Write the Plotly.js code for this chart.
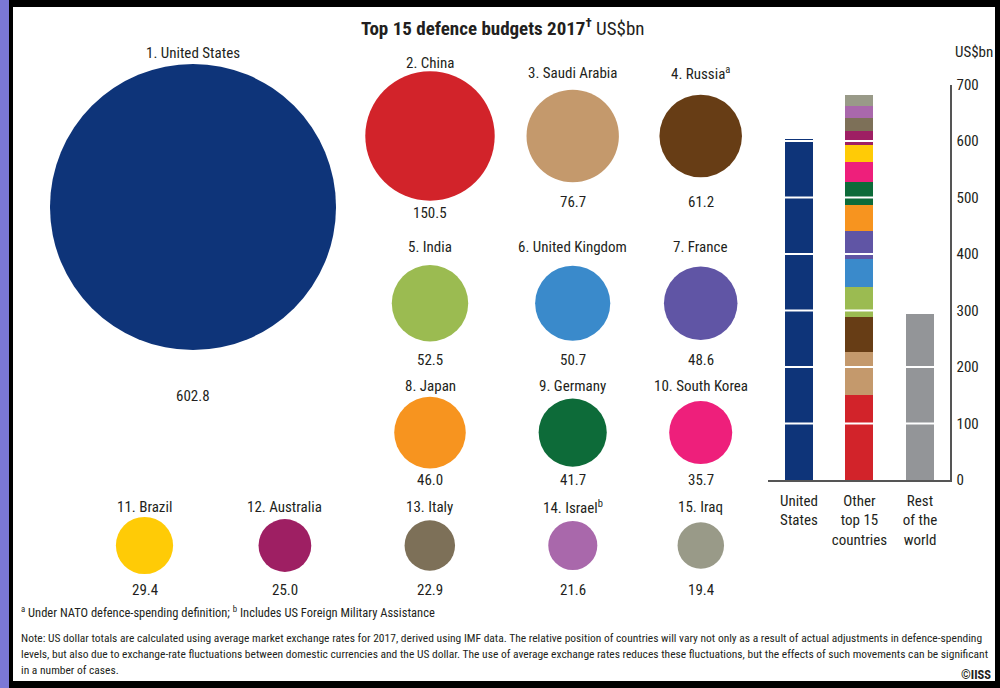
<!DOCTYPE html>
<html>
<head>
<meta charset="utf-8">
<script src="https://cdn.plot.ly/plotly-3.0.1.min.js"></script>
<style>
  html, body { margin: 0; padding: 0; background: #000; }
  #chart { width: 1000px; height: 688px; }
</style>
</head>
<body>
<div id="chart"></div>
<script>
// ---------------- DATA ----------------
const countries = ['United States', 'China', 'Saudi Arabia', 'Russia', 'India', 'United Kingdom', 'France',
  'Japan', 'Germany', 'South Korea', 'Brazil', 'Australia', 'Italy', 'Israel', 'Iraq'];
const countryNotes = ['', '', '', 'a', '', '', '', '', '', '', '', '', '', 'b', ''];
const budgets = [602.8, 150.5, 76.7, 61.2, 52.5, 50.7, 48.6, 46.0, 41.7, 35.7, 29.4, 25.0, 22.9, 21.6, 19.4];
const barCategories = ['United<br>States', 'Other<br>top 15<br>countries', 'Rest<br>of the<br>world'];
const restOfWorld = 293;
const yTicks = [0, 100, 200, 300, 400, 500, 600, 700];

// ---------------- STYLE / LAYOUT CONFIG ----------------
const colors = ['#0e3479', '#d2232a', '#c4996c', '#673d15', '#9bbb51', '#3a8acb', '#6055a5',
  '#f7941f', '#0d6b39', '#ee1f7b', '#ffcb06', '#9e1f63', '#7d7058', '#a968ab', '#999a88'];
const restColor = '#939598';
const FONT = '"Roboto Condensed", "Liberation Sans Narrow", Roboto, sans-serif';
const TXT = '#231f20';
const PX_PER_SQRT = 10.55;      // bubble diameter per sqrt(US$bn), small bubbles
const US_PX_PER_SQRT = 11.65;   // the US bubble is drawn a little larger in the original

// bubble slots (pixel space of the full figure)
const colsGrid = [430, 572.7, 700.7];
const colsBottom = [144.5, 284.9, 429.8, 572.8, 700.8];
const rows = [
  {cy: 136, ly: 73, vy: 202},
  {cy: 303.3, ly: 246.7, vy: 360},
  {cy: 432.6, ly: 386, vy: 480},
  {cy: 545.5, ly: 506.7, vy: 590}
];
function slotFor(i) {
  if (i === 0) return {x: 193, cy: 207, ly: 53, vy: 396};
  if (i <= 9) { const r = rows[Math.floor((i - 1) / 3)]; return Object.assign({x: colsGrid[(i - 1) % 3]}, r); }
  return Object.assign({x: colsBottom[i - 10]}, rows[3]);
}

const traces = [];
const annotations = [];
const shapes = [];

// ---------- bubbles ----------
const bx = [], by = [];
budgets.forEach((v, i) => {
  const s = slotFor(i);
  bx.push(s.x); by.push(s.cy);
  const k = i === 0 ? US_PX_PER_SQRT : PX_PER_SQRT;
  const r = Math.sqrt(v) * k / 2;
  const ly = Math.min(s.ly, s.cy - r - 8);
  const vy = Math.max(s.vy, s.cy + r + 12);
  const name = (i + 1) + '. ' + countries[i] + (countryNotes[i] ? '<sup>' + countryNotes[i] + '</sup>' : '');
  annotations.push({xref: 'x', yref: 'y', x: s.x, y: ly, text: name, showarrow: false,
    xanchor: 'center', yanchor: 'middle', font: {family: FONT, size: 15, color: TXT}});
  annotations.push({xref: 'x', yref: 'y', x: s.x, y: vy, text: v.toFixed(1), showarrow: false,
    xanchor: 'center', yanchor: 'middle', font: {family: FONT, size: 15, color: TXT}});
});
traces.push({
  type: 'scatter', mode: 'markers', x: bx.slice(0, 1), y: by.slice(0, 1), xaxis: 'x', yaxis: 'y',
  marker: {size: budgets.slice(0, 1), sizemode: 'area', sizeref: 2 / (US_PX_PER_SQRT * US_PX_PER_SQRT),
    color: colors.slice(0, 1), line: {width: 0}, opacity: 1},
  hoverinfo: 'skip', showlegend: false, cliponaxis: false
});
traces.push({
  type: 'scatter', mode: 'markers', x: bx.slice(1), y: by.slice(1), xaxis: 'x', yaxis: 'y',
  marker: {size: budgets.slice(1), sizemode: 'area', sizeref: 2 / (PX_PER_SQRT * PX_PER_SQRT),
    color: colors.slice(1), line: {width: 0}, opacity: 1},
  hoverinfo: 'skip', showlegend: false, cliponaxis: false
});

// ---------- stacked bars ----------
traces.push({type: 'bar', x: [barCategories[0]], y: [budgets[0]], marker: {color: colors[0], line: {width: 0}},
  width: 0.463, xaxis: 'x2', yaxis: 'y2', showlegend: false, hoverinfo: 'skip'});
for (let i = 1; i < budgets.length; i++) {
  traces.push({type: 'bar', x: [barCategories[1]], y: [budgets[i]], marker: {color: colors[i], line: {width: 0}},
    width: 0.463, xaxis: 'x2', yaxis: 'y2', showlegend: false, hoverinfo: 'skip'});
}
traces.push({type: 'bar', x: [barCategories[2]], y: [restOfWorld], marker: {color: restColor, line: {width: 0}},
  width: 0.463, xaxis: 'x2', yaxis: 'y2', showlegend: false, hoverinfo: 'skip'});

// white grid lines drawn over the bars
yTicks.slice(1).forEach(t => {
  shapes.push({type: 'line', xref: 'x2 domain', yref: 'y2', x0: 0, x1: 0.99, y0: t, y1: t,
    line: {color: '#ffffff', width: 2}, layer: 'above'});
});

// ---------- frame ----------
shapes.unshift({type: 'rect', xref: 'paper', yref: 'paper', x0: 0.013, x1: 0.995,
  y0: 1 - 681 / 688, y1: 1 - 7 / 688, fillcolor: '#ffffff', line: {width: 0}, layer: 'below'});
shapes.unshift({type: 'rect', xref: 'paper', yref: 'paper', x0: 0, x1: 0.009, y0: 0, y1: 1,
  fillcolor: '#7b78d6', line: {width: 0}, layer: 'below'});

// ---------- texts ----------
annotations.push({xref: 'x', yref: 'y', x: 503, y: 27, showarrow: false, xanchor: 'center', yanchor: 'middle',
  text: '<b>Top 15 defence budgets 2017<sup>†</sup></b> US$bn', font: {family: FONT, size: 19, color: TXT}});
annotations.push({xref: 'x', yref: 'y', x: 974, y: 52, showarrow: false, xanchor: 'center', yanchor: 'middle',
  text: 'US$bn', font: {family: FONT, size: 15, color: TXT}});
annotations.push({xref: 'x', yref: 'y', x: 19, y: 612, showarrow: false, xanchor: 'left', yanchor: 'middle',
  text: '<sup>a</sup> Under NATO defence-spending definition; <sup>b</sup> Includes US Foreign Military Assistance',
  font: {family: FONT, size: 12.5, color: TXT}});
const noteLines = [
  'Note: US dollar totals are calculated using average market exchange rates for 2017, derived using IMF data. The relative position of countries will vary not only as a result of actual adjustments in defence-spending',
  'levels, but also due to exchange-rate fluctuations between domestic currencies and the US dollar. The use of average exchange rates reduces these fluctuations, but the effects of such movements can be significant',
  'in a number of cases.'
];
noteLines.forEach((t, k) => {
  annotations.push({xref: 'x', yref: 'y', x: 19, y: 638 + 16 * k, showarrow: false, xanchor: 'left', yanchor: 'middle',
    text: t, font: {family: FONT, size: 11.5, color: TXT}});
});
annotations.push({xref: 'x', yref: 'y', x: 993, y: 674, showarrow: false, xanchor: 'right', yanchor: 'middle',
  text: '<b>©IISS</b>', font: {family: FONT, size: 12.5, color: TXT}});

// ---------- layout ----------
const y0px = 480, y700px = 84.5;
const layout = {
  width: 1000, height: 688,
  margin: {l: 0, r: 0, t: 0, b: 0, pad: 0},
  paper_bgcolor: '#000000', plot_bgcolor: 'rgba(0,0,0,0)',
  showlegend: false, barmode: 'stack', bargap: 0,
  font: {family: FONT, color: TXT},
  xaxis: {domain: [0, 1], range: [0, 1000], visible: false, fixedrange: true},
  yaxis: {domain: [0, 1], range: [688, 0], visible: false, fixedrange: true},
  xaxis2: {domain: [0.768, 0.95], anchor: 'y2', type: 'category', range: [-0.512, 2.496],
    showline: true, linecolor: '#555', linewidth: 1.5, ticks: '', showgrid: false, zeroline: false,
    ticklabelstandoff: 6,
    tickfont: {family: FONT, size: 15, color: TXT}, fixedrange: true},
  yaxis2: {domain: [1 - y0px / 688, 1 - y700px / 688], anchor: 'x2', side: 'right', range: [0, 700],
    tickvals: yTicks, ticktext: yTicks.map(String), showline: true, linecolor: '#555', linewidth: 1.5,
    ticks: '', showgrid: false, zeroline: false, ticklabelstandoff: 2,
    tickfont: {family: FONT, size: 15, color: TXT}, fixedrange: true},
  shapes: shapes,
  annotations: annotations
};

Plotly.newPlot('chart', traces, layout, {displayModeBar: false, staticPlot: true});
</script>
</body>
</html>
